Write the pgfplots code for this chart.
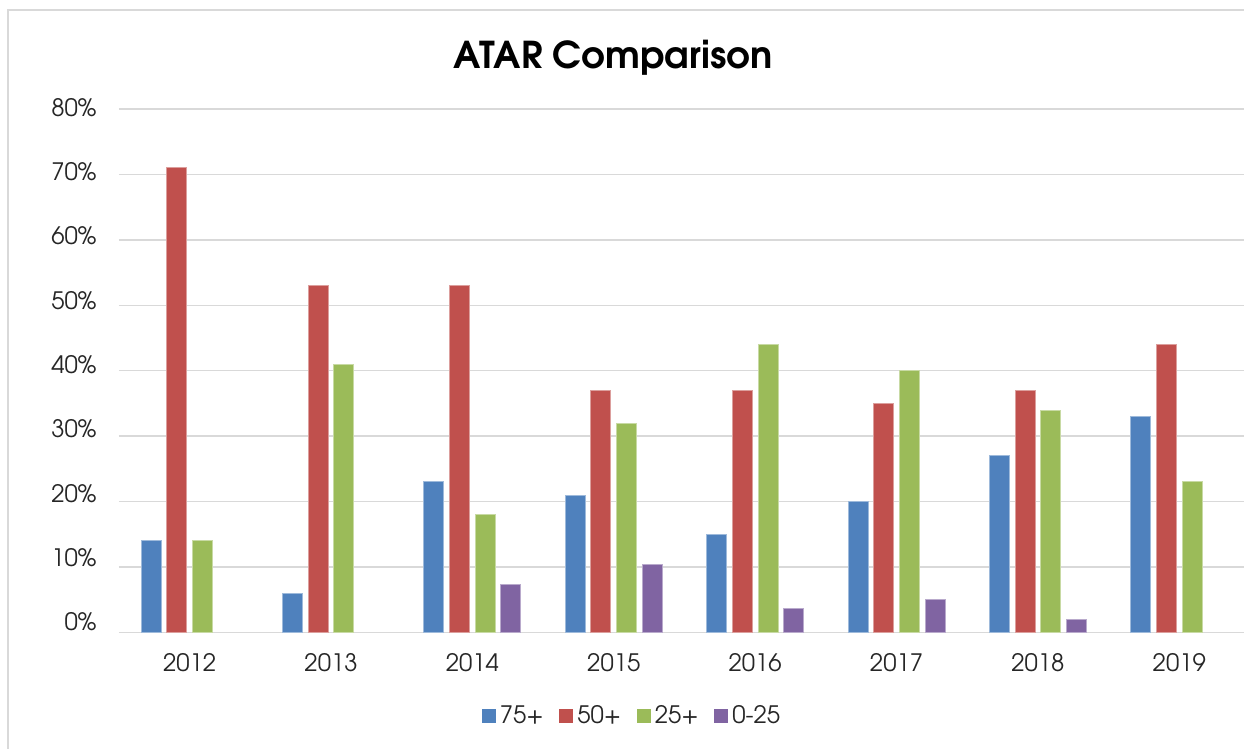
\documentclass[border=0pt]{standalone}
\usepackage{fontspec}
\setmainfont{TeX Gyre Adventor}
\usepackage{pgfplots}
\pgfplotsset{compat=1.18}

\definecolor{cblue}{HTML}{4F81BD}
\definecolor{cred}{HTML}{C0504D}
\definecolor{cgreen}{HTML}{9BBB59}
\definecolor{cpurple}{HTML}{8064A2}
\definecolor{gridgray}{HTML}{D9D9D9}
\definecolor{txt}{HTML}{262626}

\begin{document}
\begin{tikzpicture}
\useasboundingbox (0,0) rectangle (622pt,374.5pt);
% chart frame (only top and left edges are visible)
\draw[gridgray, line width=0.75pt] (4pt,0pt) -- (4pt,369.5pt) -- (622pt,369.5pt);
\node[font=\bfseries\fontsize{18.5}{21}\selectfont, text=black] at (306.5pt,345.5pt) {ATAR Comparison};

\begin{axis}[
    at={(59.5pt,58.25pt)}, anchor=south west,
    scale only axis, width=565.5pt, height=261.75pt,
    ybar=2.85pt, bar width=10pt,
    xmin=-0.5, xmax=7.5, ymin=0, ymax=80,
    xtick={0,...,7},
    xticklabels={2012,2013,2014,2015,2016,2017,2018,2019},
    ytick={0,10,...,80},
    % labels sit a little above their grid lines, more so near the bottom
    yticklabels={\raisebox{5.35pt}{0\%},\raisebox{4.8pt}{10\%},\raisebox{4.2pt}{20\%},
                 \raisebox{3.65pt}{30\%},\raisebox{3.1pt}{40\%},\raisebox{2.55pt}{50\%},
                 \raisebox{2pt}{60\%},\raisebox{1.4pt}{70\%},\raisebox{0.85pt}{80\%}},
    axis line style={draw=none},
    tick style={draw=none}, major tick length=0pt,
    ymajorgrids, grid style={gridgray, line width=0.75pt},
    ticklabel style={font=\fontsize{12}{14}\selectfont, text=txt},
    yticklabel style={inner sep=0pt, anchor=base east, xshift=-11pt, yshift=-4.4pt},
    xticklabel style={inner sep=0pt, anchor=north, yshift=-10.5pt},
    legend columns=4,
    legend style={at={(0.4545,-0.1595)}, anchor=center, draw=none,
        font=\fontsize{12}{14}\selectfont, text=txt,
        /tikz/every even column/.append style={column sep=5.8pt}},
    legend image code/.code={\draw[#1, draw=none] (0pt,-3.5pt) rectangle (7pt,3.5pt);},
]
\addplot[fill=cblue, draw=cblue!55!white, line width=0.5pt]
    coordinates {(0,14) (1,6) (2,23) (3,21) (4,15) (5,20) (6,27) (7,33)};
\addplot[fill=cred, draw=cred!55!white, line width=0.5pt]
    coordinates {(0,71) (1,53) (2,53) (3,37) (4,37) (5,35) (6,37) (7,44)};
\addplot[fill=cgreen, draw=cgreen!55!white, line width=0.5pt]
    coordinates {(0,14) (1,41) (2,18) (3,32) (4,44) (5,40) (6,34) (7,23)};
\addplot[fill=cpurple, draw=cpurple!55!white, line width=0.5pt]
    coordinates {(2,7.4) (3,10.4) (4,3.7) (5,5) (6,2)};
\legend{75+,50+,25+,0-25}
\end{axis}
\end{tikzpicture}
\end{document}
